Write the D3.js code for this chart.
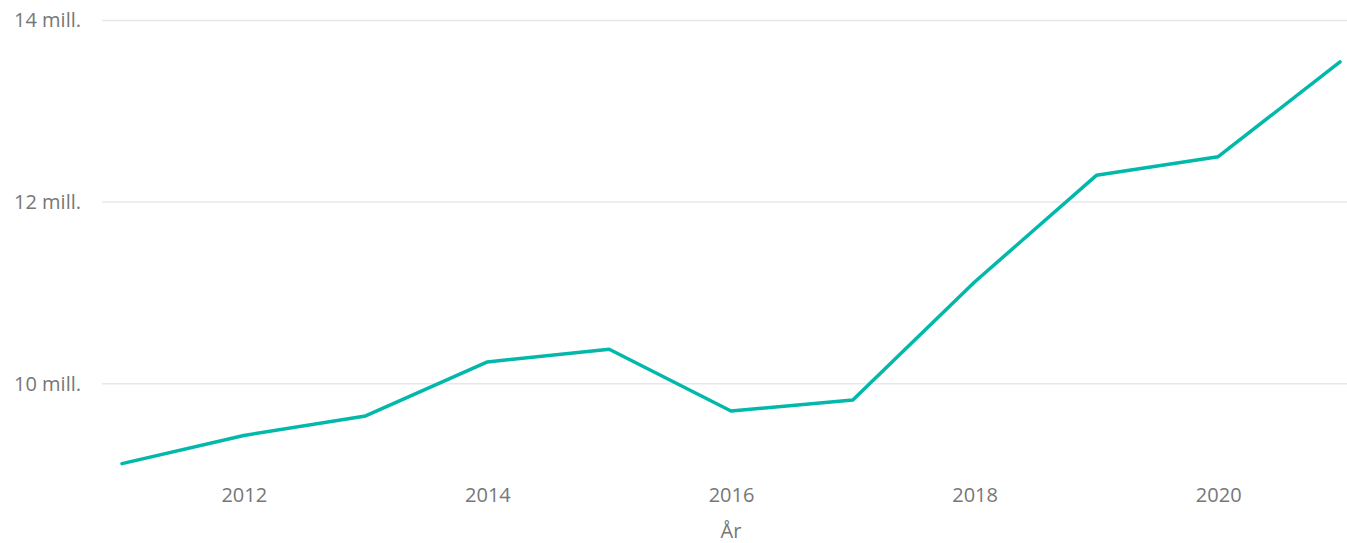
<!DOCTYPE html>
<html>
<head>
<meta charset="utf-8">
<script src="https://cdn.jsdelivr.net/npm/d3@7"></script>
<style>
  body { margin: 0; background: #fff; }
  svg text { font-family: "Open Sans", "Noto Sans", sans-serif; fill: #777; }
</style>
</head>
<body>
<div id="chart"></div>
<script>
// data
var years = [2011, 2012, 2013, 2014, 2015, 2016, 2017, 2018, 2019, 2020, 2021];
var values = [9.12, 9.43, 9.645, 10.24, 10.38, 9.70, 9.82, 11.12, 12.295, 12.50, 13.545];
var yTicks = [10, 12, 14];
var xTicks = [2012, 2014, 2016, 2018, 2020];
var xTitle = "År";

var width = 1347, height = 543;
var gridLeft = 102;

var svg = d3.select("#chart").append("svg")
    .attr("width", width)
    .attr("height", height);

// scales
var x = d3.scaleLinear().domain([2011, 2021]).range([122, 1340]);
var y = d3.scaleLinear().domain([9, 14]).range([474.5, 20.5]);

// gridlines
svg.append("g").selectAll("line")
    .data(yTicks).enter()
    .append("line")
    .attr("x1", gridLeft)
    .attr("x2", width)
    .attr("y1", (d) => y(d))
    .attr("y2", (d) => y(d))
    .attr("stroke", "#e8e8e8")
    .attr("stroke-width", 1.5);

// y axis labels
var yAxis = d3.axisLeft(y)
    .tickValues(yTicks)
    .tickSize(0)
    .tickPadding(0)
    .tickFormat((d) => d + " mill.");
svg.append("g")
    .attr("transform", "translate(81,0)")
    .call(yAxis)
    .call((g) => g.select(".domain").remove())
    .selectAll("text")
    .style("font-size", "20px")
    .attr("fill", "#777");

// x axis labels
var xAxis = d3.axisBottom(x)
    .tickValues(xTicks)
    .tickSize(0)
    .tickPadding(0)
    .tickFormat((d) => d);
svg.append("g")
    .attr("transform", "translate(0,488)")
    .call(xAxis)
    .call((g) => g.select(".domain").remove())
    .selectAll("text")
    .style("font-size", "20px")
    .attr("fill", "#777");

// axis title
svg.append("text")
    .attr("x", (x(2011) + x(2021)) / 2)
    .attr("y", 538)
    .attr("text-anchor", "middle")
    .style("font-size", "20px")
    .text(xTitle);

// line
var line = d3.line()
    .x((d, i) => x(years[i]))
    .y((d) => y(d));
svg.append("path")
    .datum(values)
    .attr("d", line)
    .attr("fill", "none")
    .attr("stroke", "#01B8AA")
    .attr("stroke-width", 3.5)
    .attr("stroke-linejoin", "round")
    .attr("stroke-linecap", "round");
</script>
</body>
</html>
